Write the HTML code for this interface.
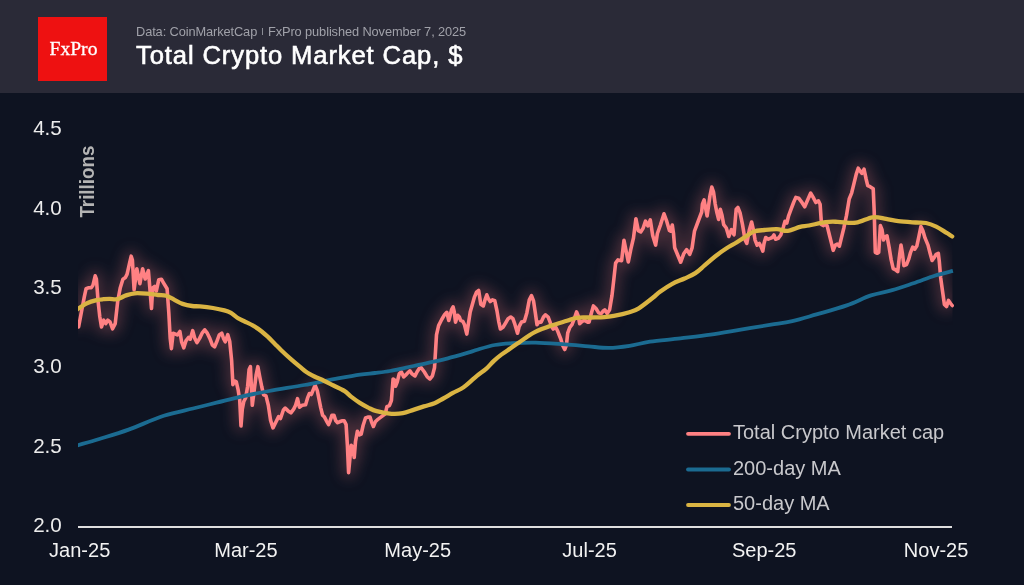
<!DOCTYPE html>
<html><head><meta charset="utf-8"><style>
html,body{margin:0;padding:0;}
body{width:1024px;height:585px;overflow:hidden;background:#0e1321;position:relative;font-family:"Liberation Sans",sans-serif;}
#hdr{position:absolute;left:0;top:0;width:1024px;height:93px;background:#2a2a37;}
#logo{position:absolute;left:38px;top:17.4px;width:68.8px;height:63.5px;background:#ee1111;}
#logo span{position:absolute;left:1px;width:69px;top:32.4px;text-align:center;font:19.6px "Liberation Serif",serif;color:#fff;line-height:0;-webkit-text-stroke:0.3px #fff;}
#sub{position:absolute;left:136px;top:23.5px;font-size:12.8px;letter-spacing:-0.1px;color:#a0a1a9;white-space:nowrap;line-height:16px;}
#sep{position:absolute;left:261.6px;top:27.5px;width:1.2px;height:7px;background:#8a8c95;}
#sub2{position:absolute;left:267.5px;top:23.5px;font-size:12.8px;letter-spacing:-0.1px;color:#a0a1a9;white-space:nowrap;line-height:16px;}
#title{position:absolute;left:136.3px;top:39.6px;font-size:25.6px;color:#fff;white-space:nowrap;line-height:30px;letter-spacing:0.88px;-webkit-text-stroke:0.6px #fff;}
svg{position:absolute;left:0;top:0;will-change:transform;}
#hdr,#logo,#sub,#sub2,#title{will-change:transform;}
svg text{font-family:"Liberation Sans",sans-serif;}
</style></head><body>
<div id="hdr"></div>
<div id="logo"><span>FxPro</span></div>
<div id="sub">Data: CoinMarketCap</div>
<div id="sep"></div>
<div id="sub2">FxPro published November 7, 2025</div>
<div id="title">Total Crypto Market Cap, $</div>
<svg width="1024" height="585" viewBox="0 0 1024 585">
<defs>
<clipPath id="cg"><rect x="78" y="95" width="874.5" height="432"/></clipPath>
<clipPath id="cl"><rect x="78" y="95" width="890" height="440"/></clipPath>
<filter id="glow" x="-5%" y="-20%" width="110%" height="140%"><feGaussianBlur stdDeviation="7"/></filter>
</defs>
<g font-size="20.6" fill="#ececec"><text x="61.8" y="135.1" text-anchor="end">4.5</text><text x="61.8" y="214.5" text-anchor="end">4.0</text><text x="61.8" y="293.9" text-anchor="end">3.5</text><text x="61.8" y="373.3" text-anchor="end">3.0</text><text x="61.8" y="452.7" text-anchor="end">2.5</text><text x="61.8" y="532.1" text-anchor="end">2.0</text></g>
<g font-size="20" fill="#f2f2f2"><text x="79.7" y="557" text-anchor="middle">Jan-25</text><text x="245.9" y="557" text-anchor="middle">Mar-25</text><text x="417.7" y="557" text-anchor="middle">May-25</text><text x="589.6" y="557" text-anchor="middle">Jul-25</text><text x="764.2" y="557" text-anchor="middle">Sep-25</text><text x="936.1" y="557" text-anchor="middle">Nov-25</text></g>
<text transform="translate(94.1,181.6) rotate(-90)" text-anchor="middle" font-size="20.3" font-weight="bold" fill="#b4b4b4" textLength="72" lengthAdjust="spacingAndGlyphs">Trillions</text>
<line x1="78" y1="527" x2="952" y2="527" stroke="#dedede" stroke-width="2"/>
<g clip-path="url(#cg)"><path d="M78.6,327.0 L81.8,310.0 L84.4,296.3 L86.1,288.6 L88.7,287.7 L91.2,287.7 L93.0,285.2 L95.2,275.8 L96.4,279.2 L98.1,301.4 L99.8,316.8 L101.5,327.0 L103.7,320.2 L105.8,323.6 L107.8,320.2 L110.0,321.9 L112.6,328.8 L115.2,323.6 L117.7,301.4 L120.3,287.7 L122.9,279.2 L125.4,277.5 L127.1,274.1 L129.4,263.8 L131.2,256.2 L132.4,260.0 L134.1,289.8 L136.8,268.7 L139.9,283.7 L142.6,268.7 L145.2,279.0 L148.4,270.7 L150.0,290.0 L151.5,308.5 L152.7,288.0 L154.7,286.4 L156.3,291.0 L158.8,279.7 L161.4,279.2 L163.5,282.8 L167.1,288.8 L168.8,312.7 L170.2,338.4 L171.4,348.6 L173.1,333.2 L175.6,334.1 L177.4,335.0 L179.9,331.5 L181.6,341.8 L183.8,347.8 L185.9,340.9 L188.5,337.5 L190.2,339.2 L192.7,330.7 L194.8,338.4 L197.0,342.6 L199.6,338.4 L202.1,333.2 L204.7,329.8 L207.3,333.2 L209.8,338.4 L212.4,345.2 L214.6,346.9 L216.7,341.8 L219.2,335.0 L221.8,333.2 L223.5,338.4 L225.2,341.8 L227.8,334.7 L229.7,341.3 L231.6,360.1 L232.9,384.6 L234.4,380.8 L236.3,381.8 L238.2,390.2 L239.7,399.6 L241.0,426.0 L242.3,409.1 L243.8,401.5 L245.7,397.8 L247.6,386.5 L249.1,369.5 L250.4,366.7 L252.3,405.3 L254.2,390.2 L256.1,375.2 L257.9,366.7 L259.8,377.1 L261.7,386.5 L263.6,394.9 L266.0,395.9 L268.3,405.3 L270.6,420.4 L273.0,427.9 L275.8,422.2 L278.6,416.6 L280.5,418.5 L283.4,410.0 L285.2,408.1 L288.1,410.9 L290.9,412.8 L293.7,409.1 L295.6,405.3 L297.5,398.7 L299.4,407.2 L302.2,405.3 L305.6,404.8 L307.5,398.2 L309.4,393.5 L311.3,394.5 L313.2,389.8 L315.1,385.1 L317.3,390.7 L318.8,398.2 L320.7,407.6 L322.6,415.2 L324.5,417.1 L326.4,420.8 L328.6,424.6 L330.1,420.8 L332.0,415.2 L333.9,415.2 L335.8,420.8 L337.6,422.7 L339.5,421.8 L342.4,420.8 L344.2,420.8 L346.1,424.6 L347.4,445.3 L348.6,472.6 L349.9,458.5 L351.2,445.3 L352.7,447.2 L354.2,457.5 L355.5,441.5 L357.4,431.2 L359.3,434.9 L361.2,434.0 L363.1,425.5 L365.5,418.0 L367.8,417.1 L370.0,417.1 L371.5,421.8 L373.4,426.5 L375.3,421.8 L377.2,419.9 L381.2,416.9 L385.3,413.8 L386.9,406.7 L389.4,405.6 L391.4,400.5 L393.1,379.0 L394.5,380.0 L395.5,386.2 L397.2,382.1 L399.2,373.8 L401.3,371.8 L403.7,376.9 L405.8,374.9 L407.8,372.8 L409.9,370.8 L411.9,373.8 L415.0,375.9 L417.1,371.8 L419.1,368.7 L421.2,367.7 L424.2,371.8 L427.3,376.9 L430.0,379.0 L432.4,375.9 L434.5,367.7 L435.5,351.3 L436.5,334.9 L438.6,325.6 L441.7,319.5 L444.7,314.4 L446.8,312.3 L448.8,320.5 L451.7,309.3 L453.1,306.8 L454.3,311.9 L455.5,322.1 L457.7,315.3 L459.4,317.0 L460.6,320.4 L462.8,321.3 L464.5,324.7 L466.8,334.1 L468.5,323.0 L470.2,311.9 L472.2,305.0 L474.3,297.4 L476.5,292.2 L478.7,290.5 L480.8,304.2 L483.3,305.9 L485.0,299.9 L486.8,294.8 L488.5,299.1 L490.2,301.6 L492.4,299.9 L494.8,300.8 L497.0,311.0 L498.7,321.3 L500.4,329.0 L503.0,327.3 L505.6,323.0 L508.1,318.7 L510.7,317.0 L512.9,318.7 L515.0,324.7 L517.5,333.2 L519.2,326.4 L521.5,322.1 L524.4,321.3 L526.9,312.7 L529.3,299.9 L531.5,295.6 L533.5,300.8 L535.3,312.7 L537.0,324.7 L538.7,322.1 L541.2,322.1 L543.5,317.0 L545.5,314.8 L548.1,317.0 L549.8,321.3 L551.5,326.4 L553.2,329.0 L555.8,327.3 L557.5,330.7 L559.2,335.0 L560.9,339.2 L562.6,345.2 L564.7,349.5 L566.4,345.2 L567.7,333.2 L569.8,327.3 L572.0,324.7 L574.6,317.9 L576.6,311.9 L578.3,316.2 L579.7,323.8 L582.3,321.3 L584.8,320.4 L587.4,322.1 L589.1,322.1 L590.8,315.3 L593.4,305.9 L596.0,308.5 L598.5,312.7 L601.1,313.6 L603.3,311.0 L604.8,309.8 L607.2,313.4 L609.6,309.8 L612.0,295.4 L613.9,278.6 L615.6,263.1 L618.0,259.9 L621.6,260.7 L624.0,240.3 L625.9,249.9 L628.3,261.9 L630.7,249.9 L633.5,237.9 L635.9,218.7 L638.3,230.7 L640.7,231.9 L643.1,228.3 L645.5,221.1 L647.9,225.9 L650.3,219.9 L652.7,235.5 L655.6,245.1 L657.4,233.5 L660.4,225.1 L664.0,213.8 L666.4,220.3 L669.4,230.5 L670.6,231.1 L672.3,225.1 L673.5,233.5 L674.7,247.8 L677.7,255.0 L680.7,262.2 L683.7,253.8 L686.7,249.6 L689.7,254.4 L692.1,247.8 L694.5,231.1 L698.1,221.5 L701.7,212.0 L702.4,204.1 L704.1,199.8 L705.8,209.2 L707.1,216.0 L708.3,207.5 L710.0,195.5 L711.8,187.0 L713.5,192.1 L715.2,204.1 L716.9,212.6 L718.6,219.4 L720.3,209.2 L722.0,215.2 L723.7,224.6 L726.3,228.0 L728.8,236.5 L731.4,229.7 L734.0,234.8 L736.2,209.2 L737.9,207.5 L740.0,212.6 L742.5,224.6 L745.1,240.0 L746.8,243.4 L749.4,229.7 L751.6,222.0 L753.4,229.8 L755.1,240.1 L757.2,245.2 L759.4,243.5 L761.1,246.9 L762.8,251.2 L764.0,243.5 L765.7,237.5 L767.9,239.2 L770.2,238.4 L772.2,237.5 L773.9,235.0 L775.6,239.2 L778.2,238.4 L780.8,235.0 L783.3,227.3 L785.0,221.3 L786.8,223.0 L788.5,216.2 L791.0,209.3 L793.6,202.5 L795.8,197.4 L798.7,198.2 L801.3,201.6 L804.7,206.8 L807.3,200.8 L810.7,193.1 L813.2,197.4 L815.8,202.5 L818.4,200.8 L820.1,204.2 L821.5,224.7 L823.5,225.6 L825.0,224.6 L827.1,225.6 L829.1,233.8 L831.2,242.1 L833.2,250.3 L835.3,245.1 L837.3,244.1 L839.4,246.2 L841.4,237.9 L843.9,227.7 L846.5,215.4 L849.2,199.0 L851.7,192.8 L853.7,184.6 L856.2,174.4 L858.2,168.2 L860.3,171.3 L861.9,173.3 L864.0,169.2 L866.0,178.5 L867.7,185.6 L870.1,186.7 L873.2,188.7 L874.2,211.3 L875.3,252.3 L877.3,253.3 L878.7,252.3 L880.4,225.6 L882.0,229.7 L883.5,240.0 L885.0,236.9 L887.0,235.9 L889.1,247.1 L891.1,259.4 L893.2,268.6 L895.2,269.7 L897.7,271.7 L899.3,257.4 L901.0,245.1 L902.4,253.3 L903.9,265.6 L906.5,264.5 L908.6,259.4 L910.6,252.3 L912.7,247.1 L914.7,249.2 L916.8,246.1 L918.8,236.9 L920.9,226.6 L922.9,230.7 L925.0,237.9 L928.0,245.1 L930.1,253.3 L932.1,260.5 L934.2,257.4 L936.2,254.3 L938.3,253.3 L939.3,261.5 L940.7,277.9 L942.4,290.2 L944.4,304.5 L946.5,306.6 L948.5,300.4 L950.6,303.5 L952.2,305.5" fill="none" stroke="#ff8183" stroke-opacity="0.25" stroke-width="12" stroke-linejoin="round" filter="url(#glow)"/></g>
<g clip-path="url(#cl)">
<path d="M78.6,327.0 L81.8,310.0 L84.4,296.3 L86.1,288.6 L88.7,287.7 L91.2,287.7 L93.0,285.2 L95.2,275.8 L96.4,279.2 L98.1,301.4 L99.8,316.8 L101.5,327.0 L103.7,320.2 L105.8,323.6 L107.8,320.2 L110.0,321.9 L112.6,328.8 L115.2,323.6 L117.7,301.4 L120.3,287.7 L122.9,279.2 L125.4,277.5 L127.1,274.1 L129.4,263.8 L131.2,256.2 L132.4,260.0 L134.1,289.8 L136.8,268.7 L139.9,283.7 L142.6,268.7 L145.2,279.0 L148.4,270.7 L150.0,290.0 L151.5,308.5 L152.7,288.0 L154.7,286.4 L156.3,291.0 L158.8,279.7 L161.4,279.2 L163.5,282.8 L167.1,288.8 L168.8,312.7 L170.2,338.4 L171.4,348.6 L173.1,333.2 L175.6,334.1 L177.4,335.0 L179.9,331.5 L181.6,341.8 L183.8,347.8 L185.9,340.9 L188.5,337.5 L190.2,339.2 L192.7,330.7 L194.8,338.4 L197.0,342.6 L199.6,338.4 L202.1,333.2 L204.7,329.8 L207.3,333.2 L209.8,338.4 L212.4,345.2 L214.6,346.9 L216.7,341.8 L219.2,335.0 L221.8,333.2 L223.5,338.4 L225.2,341.8 L227.8,334.7 L229.7,341.3 L231.6,360.1 L232.9,384.6 L234.4,380.8 L236.3,381.8 L238.2,390.2 L239.7,399.6 L241.0,426.0 L242.3,409.1 L243.8,401.5 L245.7,397.8 L247.6,386.5 L249.1,369.5 L250.4,366.7 L252.3,405.3 L254.2,390.2 L256.1,375.2 L257.9,366.7 L259.8,377.1 L261.7,386.5 L263.6,394.9 L266.0,395.9 L268.3,405.3 L270.6,420.4 L273.0,427.9 L275.8,422.2 L278.6,416.6 L280.5,418.5 L283.4,410.0 L285.2,408.1 L288.1,410.9 L290.9,412.8 L293.7,409.1 L295.6,405.3 L297.5,398.7 L299.4,407.2 L302.2,405.3 L305.6,404.8 L307.5,398.2 L309.4,393.5 L311.3,394.5 L313.2,389.8 L315.1,385.1 L317.3,390.7 L318.8,398.2 L320.7,407.6 L322.6,415.2 L324.5,417.1 L326.4,420.8 L328.6,424.6 L330.1,420.8 L332.0,415.2 L333.9,415.2 L335.8,420.8 L337.6,422.7 L339.5,421.8 L342.4,420.8 L344.2,420.8 L346.1,424.6 L347.4,445.3 L348.6,472.6 L349.9,458.5 L351.2,445.3 L352.7,447.2 L354.2,457.5 L355.5,441.5 L357.4,431.2 L359.3,434.9 L361.2,434.0 L363.1,425.5 L365.5,418.0 L367.8,417.1 L370.0,417.1 L371.5,421.8 L373.4,426.5 L375.3,421.8 L377.2,419.9 L381.2,416.9 L385.3,413.8 L386.9,406.7 L389.4,405.6 L391.4,400.5 L393.1,379.0 L394.5,380.0 L395.5,386.2 L397.2,382.1 L399.2,373.8 L401.3,371.8 L403.7,376.9 L405.8,374.9 L407.8,372.8 L409.9,370.8 L411.9,373.8 L415.0,375.9 L417.1,371.8 L419.1,368.7 L421.2,367.7 L424.2,371.8 L427.3,376.9 L430.0,379.0 L432.4,375.9 L434.5,367.7 L435.5,351.3 L436.5,334.9 L438.6,325.6 L441.7,319.5 L444.7,314.4 L446.8,312.3 L448.8,320.5 L451.7,309.3 L453.1,306.8 L454.3,311.9 L455.5,322.1 L457.7,315.3 L459.4,317.0 L460.6,320.4 L462.8,321.3 L464.5,324.7 L466.8,334.1 L468.5,323.0 L470.2,311.9 L472.2,305.0 L474.3,297.4 L476.5,292.2 L478.7,290.5 L480.8,304.2 L483.3,305.9 L485.0,299.9 L486.8,294.8 L488.5,299.1 L490.2,301.6 L492.4,299.9 L494.8,300.8 L497.0,311.0 L498.7,321.3 L500.4,329.0 L503.0,327.3 L505.6,323.0 L508.1,318.7 L510.7,317.0 L512.9,318.7 L515.0,324.7 L517.5,333.2 L519.2,326.4 L521.5,322.1 L524.4,321.3 L526.9,312.7 L529.3,299.9 L531.5,295.6 L533.5,300.8 L535.3,312.7 L537.0,324.7 L538.7,322.1 L541.2,322.1 L543.5,317.0 L545.5,314.8 L548.1,317.0 L549.8,321.3 L551.5,326.4 L553.2,329.0 L555.8,327.3 L557.5,330.7 L559.2,335.0 L560.9,339.2 L562.6,345.2 L564.7,349.5 L566.4,345.2 L567.7,333.2 L569.8,327.3 L572.0,324.7 L574.6,317.9 L576.6,311.9 L578.3,316.2 L579.7,323.8 L582.3,321.3 L584.8,320.4 L587.4,322.1 L589.1,322.1 L590.8,315.3 L593.4,305.9 L596.0,308.5 L598.5,312.7 L601.1,313.6 L603.3,311.0 L604.8,309.8 L607.2,313.4 L609.6,309.8 L612.0,295.4 L613.9,278.6 L615.6,263.1 L618.0,259.9 L621.6,260.7 L624.0,240.3 L625.9,249.9 L628.3,261.9 L630.7,249.9 L633.5,237.9 L635.9,218.7 L638.3,230.7 L640.7,231.9 L643.1,228.3 L645.5,221.1 L647.9,225.9 L650.3,219.9 L652.7,235.5 L655.6,245.1 L657.4,233.5 L660.4,225.1 L664.0,213.8 L666.4,220.3 L669.4,230.5 L670.6,231.1 L672.3,225.1 L673.5,233.5 L674.7,247.8 L677.7,255.0 L680.7,262.2 L683.7,253.8 L686.7,249.6 L689.7,254.4 L692.1,247.8 L694.5,231.1 L698.1,221.5 L701.7,212.0 L702.4,204.1 L704.1,199.8 L705.8,209.2 L707.1,216.0 L708.3,207.5 L710.0,195.5 L711.8,187.0 L713.5,192.1 L715.2,204.1 L716.9,212.6 L718.6,219.4 L720.3,209.2 L722.0,215.2 L723.7,224.6 L726.3,228.0 L728.8,236.5 L731.4,229.7 L734.0,234.8 L736.2,209.2 L737.9,207.5 L740.0,212.6 L742.5,224.6 L745.1,240.0 L746.8,243.4 L749.4,229.7 L751.6,222.0 L753.4,229.8 L755.1,240.1 L757.2,245.2 L759.4,243.5 L761.1,246.9 L762.8,251.2 L764.0,243.5 L765.7,237.5 L767.9,239.2 L770.2,238.4 L772.2,237.5 L773.9,235.0 L775.6,239.2 L778.2,238.4 L780.8,235.0 L783.3,227.3 L785.0,221.3 L786.8,223.0 L788.5,216.2 L791.0,209.3 L793.6,202.5 L795.8,197.4 L798.7,198.2 L801.3,201.6 L804.7,206.8 L807.3,200.8 L810.7,193.1 L813.2,197.4 L815.8,202.5 L818.4,200.8 L820.1,204.2 L821.5,224.7 L823.5,225.6 L825.0,224.6 L827.1,225.6 L829.1,233.8 L831.2,242.1 L833.2,250.3 L835.3,245.1 L837.3,244.1 L839.4,246.2 L841.4,237.9 L843.9,227.7 L846.5,215.4 L849.2,199.0 L851.7,192.8 L853.7,184.6 L856.2,174.4 L858.2,168.2 L860.3,171.3 L861.9,173.3 L864.0,169.2 L866.0,178.5 L867.7,185.6 L870.1,186.7 L873.2,188.7 L874.2,211.3 L875.3,252.3 L877.3,253.3 L878.7,252.3 L880.4,225.6 L882.0,229.7 L883.5,240.0 L885.0,236.9 L887.0,235.9 L889.1,247.1 L891.1,259.4 L893.2,268.6 L895.2,269.7 L897.7,271.7 L899.3,257.4 L901.0,245.1 L902.4,253.3 L903.9,265.6 L906.5,264.5 L908.6,259.4 L910.6,252.3 L912.7,247.1 L914.7,249.2 L916.8,246.1 L918.8,236.9 L920.9,226.6 L922.9,230.7 L925.0,237.9 L928.0,245.1 L930.1,253.3 L932.1,260.5 L934.2,257.4 L936.2,254.3 L938.3,253.3 L939.3,261.5 L940.7,277.9 L942.4,290.2 L944.4,304.5 L946.5,306.6 L948.5,300.4 L950.6,303.5 L952.2,305.5" fill="none" stroke="#ff8183" stroke-width="3.6" stroke-linejoin="round" stroke-linecap="round"/>
<path d="M76.5,445.6 C76.8,445.5 74.4,446.2 78.2,445.1 C82.0,444.0 90.9,441.6 99.3,439.0 C107.7,436.4 117.8,433.5 128.6,429.6 C139.3,425.7 153.1,419.3 163.8,415.8 C174.5,412.3 184.2,410.7 193.0,408.5 C201.8,406.3 208.7,404.6 216.5,402.7 C224.3,400.8 231.2,398.8 240.0,396.8 C248.8,394.9 258.5,393.0 269.2,391.0 C279.9,389.0 293.6,387.0 304.4,385.0 C315.1,383.0 324.4,380.9 333.7,379.2 C343.0,377.5 353.1,375.6 360.0,374.6 C366.9,373.6 370.0,373.6 375.0,373.0 C380.0,372.4 385.0,371.9 390.0,371.0 C395.0,370.1 400.2,368.9 405.0,367.9 C409.8,366.9 413.6,366.0 418.6,364.9 C423.6,363.8 430.1,362.5 435.0,361.4 C439.9,360.3 442.1,359.9 447.9,358.3 C453.7,356.8 465.1,353.5 470.0,352.1 C474.9,350.7 473.1,350.9 477.2,349.7 C481.3,348.5 488.9,346.1 494.8,345.0 C500.7,343.9 505.6,343.6 512.4,343.2 C519.2,342.8 527.0,342.4 535.8,342.6 C544.6,342.8 556.3,343.8 565.1,344.4 C573.9,345.0 581.2,345.8 588.5,346.4 C595.8,347.0 602.1,348.0 609.0,347.9 C615.9,347.8 622.8,346.8 629.6,345.8 C636.4,344.8 641.5,342.9 650.0,341.7 C658.5,340.5 670.2,339.6 680.3,338.4 C690.4,337.2 700.4,336.2 710.5,334.7 C720.6,333.2 730.7,331.3 740.8,329.6 C750.9,327.9 762.5,326.1 771.1,324.7 C779.7,323.3 784.7,322.8 792.3,321.1 C799.9,319.4 807.4,317.0 816.5,314.4 C825.6,311.8 837.7,308.6 846.8,305.4 C855.9,302.2 863.4,297.9 871.0,295.4 C878.6,292.9 885.1,292.2 892.2,290.2 C899.3,288.2 906.3,285.7 913.4,283.3 C920.5,280.9 928.0,277.8 934.6,275.7 C941.2,273.6 949.9,271.7 952.9,270.9" fill="none" stroke="#1b6b91" stroke-width="3.8" stroke-linecap="butt"/>
<path d="M76.5,309.8 C77.1,309.4 78.2,308.7 80.0,307.6 C81.8,306.5 84.2,304.4 87.0,303.2 C89.8,302.0 93.8,300.9 96.5,300.2 C99.2,299.5 101.1,299.4 103.3,299.2 C105.5,299.0 107.5,298.8 109.5,298.8 C111.5,298.8 113.8,299.4 115.5,299.3 C117.2,299.2 118.2,298.8 120.0,298.1 C121.8,297.5 123.5,296.2 126.0,295.4 C128.5,294.6 131.3,293.6 134.8,293.3 C138.3,293.0 143.2,293.4 147.1,293.7 C151.0,294.0 154.8,294.7 158.0,295.0 C161.2,295.3 163.5,294.9 166.2,295.7 C168.9,296.5 171.7,298.4 174.4,299.8 C177.1,301.2 179.6,302.9 182.6,303.9 C185.6,304.9 189.3,305.6 192.2,306.0 C195.1,306.4 196.5,306.1 200.0,306.4 C203.5,306.7 208.9,307.3 213.0,308.0 C217.1,308.7 221.4,309.6 224.4,310.4 C227.4,311.2 228.8,311.7 231.0,312.9 C233.2,314.1 235.2,316.3 237.3,317.7 C239.4,319.1 241.1,319.6 243.8,321.0 C246.5,322.4 250.6,324.1 253.6,325.9 C256.6,327.6 259.3,329.6 261.7,331.5 C264.1,333.4 266.0,335.2 268.2,337.2 C270.4,339.2 272.5,341.5 274.7,343.7 C276.9,345.9 278.5,347.6 281.2,350.2 C283.9,352.8 287.7,356.3 290.9,359.1 C294.1,361.9 297.9,365.1 300.4,367.2 C302.9,369.3 303.7,370.2 306.0,371.8 C308.3,373.4 311.4,375.0 314.4,376.5 C317.4,378.0 320.7,379.2 323.9,380.7 C327.1,382.2 330.1,383.8 333.5,385.5 C336.9,387.2 341.3,389.0 344.3,390.9 C347.3,392.8 348.8,394.9 351.4,396.9 C354.0,398.9 357.0,401.1 359.8,402.9 C362.6,404.7 365.4,406.2 368.2,407.6 C371.0,409.0 372.7,410.2 376.6,411.2 C380.5,412.2 387.0,413.5 391.4,413.8 C395.8,414.1 399.1,413.9 402.8,413.2 C406.5,412.5 409.9,411.0 413.4,409.9 C416.9,408.8 420.4,407.5 423.9,406.4 C427.4,405.3 431.3,404.6 434.5,403.3 C437.7,402.0 440.2,400.2 443.3,398.5 C446.4,396.8 450.0,394.5 452.9,392.9 C455.8,391.3 458.6,390.3 460.8,389.0 C463.0,387.7 463.3,387.5 466.0,385.3 C468.7,383.1 473.8,378.3 477.2,375.6 C480.6,372.9 483.3,371.4 486.1,368.9 C488.9,366.4 491.3,363.2 493.9,360.8 C496.5,358.4 498.9,356.5 501.7,354.4 C504.5,352.3 507.7,350.3 510.6,348.3 C513.6,346.3 516.6,344.1 519.4,342.2 C522.2,340.3 524.6,338.4 527.2,336.7 C529.9,335.0 531.3,333.8 535.3,331.9 C539.3,330.0 546.0,327.5 551.3,325.6 C556.6,323.8 562.7,322.1 566.9,320.8 C571.1,319.5 572.4,318.4 576.3,317.8 C580.2,317.2 585.6,317.6 590.3,317.5 C595.0,317.4 600.5,317.5 604.4,317.2 C608.3,316.9 609.6,316.7 613.8,315.9 C618.0,315.1 625.2,313.5 629.4,312.2 C633.6,310.9 634.9,310.7 638.8,308.3 C642.7,305.9 649.3,300.6 652.8,297.8 C656.3,295.0 656.8,294.0 660.0,291.7 C663.2,289.4 668.2,286.0 672.3,283.8 C676.4,281.6 680.8,280.3 684.6,278.5 C688.5,276.7 692.1,275.3 695.4,273.1 C698.7,270.9 701.3,268.2 704.6,265.4 C707.9,262.6 711.8,259.0 715.4,256.2 C719.0,253.4 722.6,250.8 726.2,248.5 C729.8,246.2 733.6,244.4 736.9,242.3 C740.2,240.2 743.4,238.0 746.2,236.2 C749.0,234.4 750.7,232.5 753.8,231.5 C756.9,230.5 760.8,230.4 764.6,230.0 C768.5,229.6 773.0,229.1 776.9,229.2 C780.8,229.3 783.9,231.2 787.7,230.8 C791.6,230.4 796.5,227.8 800.0,226.9 C803.5,226.0 804.7,226.3 809.0,225.5 C813.3,224.7 820.8,222.7 825.6,222.1 C830.4,221.5 832.7,221.7 837.7,221.8 C842.8,221.9 850.1,223.4 855.9,222.7 C861.7,221.9 867.5,218.0 872.5,217.3 C877.5,216.7 881.8,218.2 886.1,218.8 C890.4,219.5 893.4,220.6 898.3,221.2 C903.2,221.8 911.1,222.2 915.7,222.5 C920.3,222.8 922.6,222.3 926.0,223.0 C929.4,223.7 932.8,225.0 936.2,226.6 C939.6,228.2 943.8,231.2 946.5,232.8 C949.2,234.5 951.2,235.9 952.2,236.5" fill="none" stroke="#dab443" stroke-width="4.3" stroke-linecap="round"/>
</g>
<g stroke-width="3.8" stroke-linecap="round">
<line x1="688" y1="433.8" x2="729" y2="433.8" stroke="#ff8183"/>
<line x1="688" y1="469.5" x2="729" y2="469.5" stroke="#1b6b91"/>
<line x1="688" y1="505" x2="729" y2="505" stroke="#dab443"/>
</g>
<g font-size="20" fill="#c8c8cc">
<text x="733" y="439">Total Crypto Market cap</text>
<text x="733" y="474.7">200-day MA</text>
<text x="733" y="510.2">50-day MA</text>
</g>
</svg>
</body></html>
